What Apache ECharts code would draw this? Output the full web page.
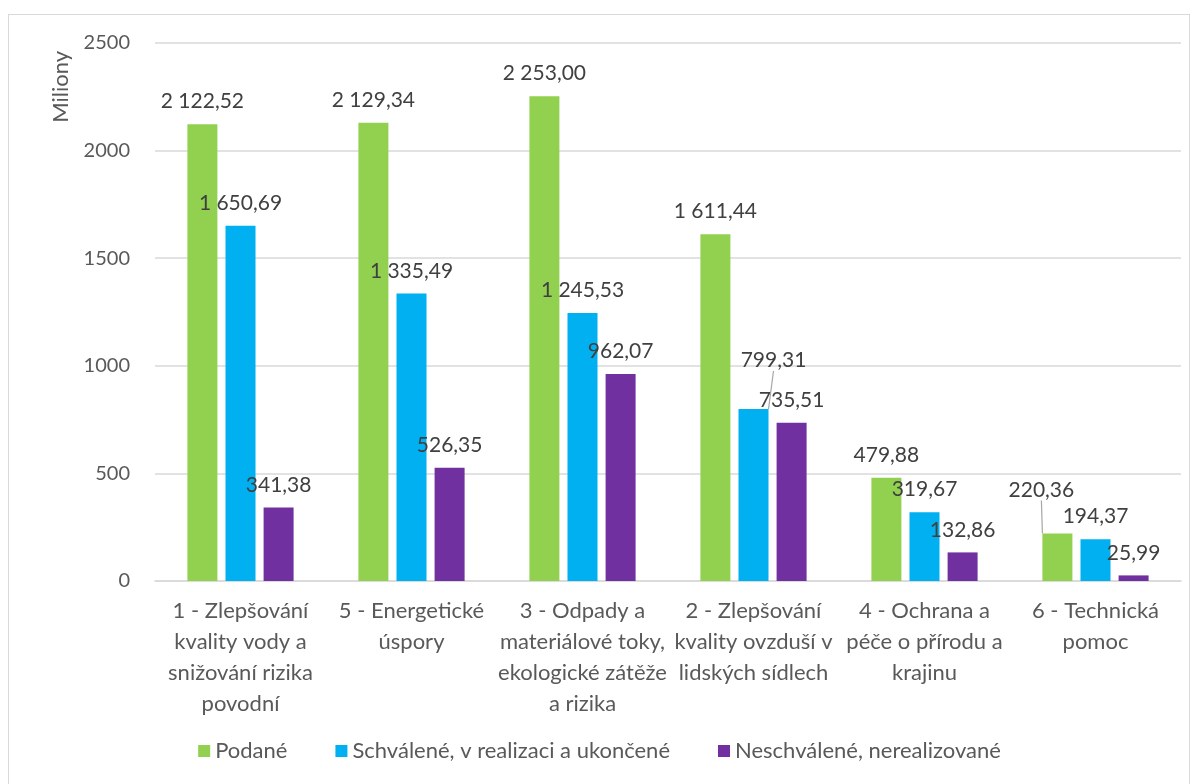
<!DOCTYPE html>
<html>
<head>
<meta charset="utf-8">
<script src="https://cdn.jsdelivr.net/npm/echarts@6/dist/echarts.min.js"></script>
<style>
  html, body { margin: 0; padding: 0; background: #fff; }
  #frame { position: absolute; left: 8px; top: 14px; width: 1182px; height: 780px; border: 1px solid #d9d9d9; border-bottom: none; box-sizing: border-box; }
  #chart { position: absolute; left: 0; top: 0; width: 1199px; height: 784px; }
</style>
</head>
<body>
<div id="frame"></div>
<div id="chart"></div>
<script>
// data
var categories = [
    '1 - Zlepšování\nkvality vody a\nsnižování rizika\npovodní',
    '5 - Energetické\núspory',
    '3 - Odpady a\nmateriálové toky,\nekologické zátěže\na rizika',
    '2 - Zlepšování\nkvality ovzduší v\nlidských sídlech',
    '4 - Ochrana a\npéče o přírodu a\nkrajinu',
    '6 - Technická\npomoc'
];
var podane = [2122.52, 2129.34, 2253.00, 1611.44, 479.88, 220.36];
var schvalene = [1650.69, 1335.49, 1245.53, 799.31, 319.67, 194.37];
var neschvalene = [341.38, 526.35, 962.07, 735.51, 132.86, 25.99];
var seriesNames = ['Podané', 'Schválené, v realizaci a ukončené', 'Neschválené, nerealizované'];
var yTicks = [0, 500, 1000, 1500, 2000, 2500];

var FONT = 'Lato';

function czNum(v) {
    var parts = v.toFixed(2).split('.');
    parts[0] = parts[0].replace(/\B(?=(\d{3})+(?!\d))/g, ' ');
    return parts.join(',');
}

// moved: label shifts (px) for labels pulled away from their bar, with a leader line
function makeSeries(name, data, color, moved) {
    return {
        name: name,
        type: 'bar',
        data: data.map(function (v, i) {
            return moved[i] ? { value: v, labelLine: { show: true } } : v;
        }),
        barWidth: 30,
        barGap: '27%',
        itemStyle: { color: color },
        label: {
            show: true,
            position: 'top',
            distance: 12,
            color: '#404040',
            fontFamily: FONT,
            fontSize: 21,
            formatter: function (p) { return czNum(p.value); }
        },
        labelLine: { show: false, lineStyle: { color: '#a6a6a6', width: 1.2 } },
        labelLayout: function (p) {
            if (moved[p.dataIndex]) {
                return { dx: moved[p.dataIndex][0], dy: moved[p.dataIndex][1] };
            }
            return {};
        }
    };
}

var myChart = echarts.init(document.getElementById('chart'));
var option = {
    animation: false,
    grid: { left: 155, right: 18, top: 43, bottom: 203 },
    legend: {
        bottom: 17,
        left: 'center',
        itemWidth: 12,
        itemHeight: 12,
        itemGap: 48,
        icon: 'rect',
        data: seriesNames,
        textStyle: { color: '#595959', fontFamily: FONT, fontSize: 22 }
    },
    graphic: [{
        type: 'text',
        left: 50,
        top: 51,
        rotation: Math.PI / 2,
        style: { text: 'Miliony', fill: '#595959', font: '22px ' + FONT }
    }],
    xAxis: {
        type: 'category',
        data: categories,
        axisLine: { lineStyle: { color: '#d9d9d9', width: 1.5 } },
        axisTick: { show: false },
        axisLabel: {
            color: '#595959',
            fontFamily: FONT,
            fontSize: 22,
            lineHeight: 31,
            margin: 14,
            interval: 0
        }
    },
    yAxis: {
        type: 'value',
        min: yTicks[0],
        max: yTicks[yTicks.length - 1],
        interval: yTicks[1] - yTicks[0],
        axisLine: { show: false },
        axisTick: { show: false },
        splitLine: { lineStyle: { color: '#d9d9d9', width: 1.5 } },
        axisLabel: {
            color: '#595959', fontFamily: FONT, fontSize: 20, margin: 25,
            formatter: function (v) { return String(v); }
        }
    },
    series: [
        makeSeries(seriesNames[0], podane, '#92d050', { 5: [-16, -21] }),
        makeSeries(seriesNames[1], schvalene, '#00b0f0', { 3: [20, -26] }),
        makeSeries(seriesNames[2], neschvalene, '#7030a0', {})
    ]
};
myChart.setOption(option);
window.addEventListener('resize', function () { myChart.resize(); });
</script>
</body>
</html>
